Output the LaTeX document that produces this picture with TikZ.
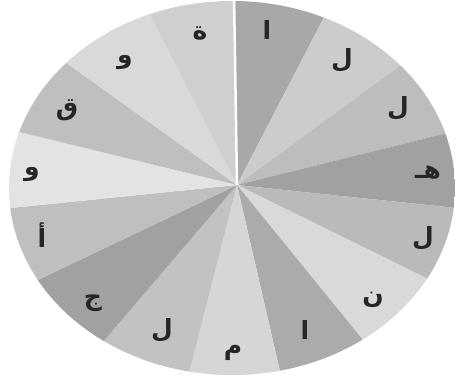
\documentclass[tikz,border=0pt]{standalone}
\usepackage{fontspec}
\newfontfamily\arabicfont[Script=Arabic]{DejaVu Sans}
\TeXXeTstate=1

\begin{document}
\begin{tikzpicture}[
    x=1pt, y=-1pt,
    letter/.style={font=\arabicfont\bfseries\fontsize{25}{28}\selectfont, text=black!85, inner sep=0pt},
    gap/.style={draw=white, line width=2.5pt}
]
\useasboundingbox[fill=white] (0,0) rectangle (455,381);

\begin{scope}
\clip (232,188) ellipse [x radius=223pt, y radius=187pt];
\fill[black!34] (237,185) -- +(269.1:600) -- +(297.4:600) -- cycle;
\fill[black!20] (237,185) -- +(297.4:600) -- +(323.8:600) -- cycle;
\fill[black!26] (237,185) -- +(323.8:600) -- +(346.1:600) -- cycle;
\fill[black!37] (237,185) -- +(346.1:600) -- +(366.0:600) -- cycle;
\fill[black!27] (237,185) -- +(6.0:600) -- +(26.2:600) -- cycle;
\fill[black!15] (237,185) -- +(26.2:600) -- +(50.9:600) -- cycle;
\fill[black!33] (237,185) -- +(50.9:600) -- +(77.0:600) -- cycle;
\fill[black!16] (237,185) -- +(77.0:600) -- +(104.3:600) -- cycle;
\fill[black!24] (237,185) -- +(104.3:600) -- +(130.5:600) -- cycle;
\fill[black!37] (237,185) -- +(130.5:600) -- +(154.5:600) -- cycle;
\fill[black!25] (237,185) -- +(154.5:600) -- +(174.2:600) -- cycle;
\fill[black!11] (237,185) -- +(174.2:600) -- +(193.7:600) -- cycle;
\fill[black!25] (237,185) -- +(193.7:600) -- +(215.6:600) -- cycle;
\fill[black!15] (237,185) -- +(215.6:600) -- +(242.9:600) -- cycle;
\fill[black!19] (237,185) -- +(242.9:600) -- +(269.1:600) -- cycle;
\draw[gap] (237,185) -- +(269.1:600);
\end{scope}

\node[letter] (alif1) at (267,30) {\beginR ا\endR};
\node[letter] (lam1) at (342,60) {\beginR ل\endR};
\node[letter] (lam2) at (398,108) {\beginR ل\endR};
\node[letter] (ha) at (428,173) {\beginR هـ\endR};
\node[letter] (lam3) at (423,238) {\beginR ل\endR};
\node[letter] (nun) at (373,300) {\beginR ن\endR};
\node[letter] (alif2) at (305,330) {\beginR ا\endR};
\node[letter] (mim) at (233,353) {\beginR م\endR};
\node[letter] (lam4) at (162,330) {\beginR ل\endR};
\node[letter] (jim) at (93,303) {\beginR ج\endR};
\node[letter] (alif3) at (42,235) {\beginR أ\endR};
\node[letter] (waw1) at (32,175) {\beginR و\endR};
\node[letter] (qaf) at (67,110) {\beginR ق\endR};
\node[letter] (waw2) at (125,63) {\beginR و\endR};
\node[letter] (ta) at (200,33) {\beginR ة\endR};

\end{tikzpicture}
\end{document}
